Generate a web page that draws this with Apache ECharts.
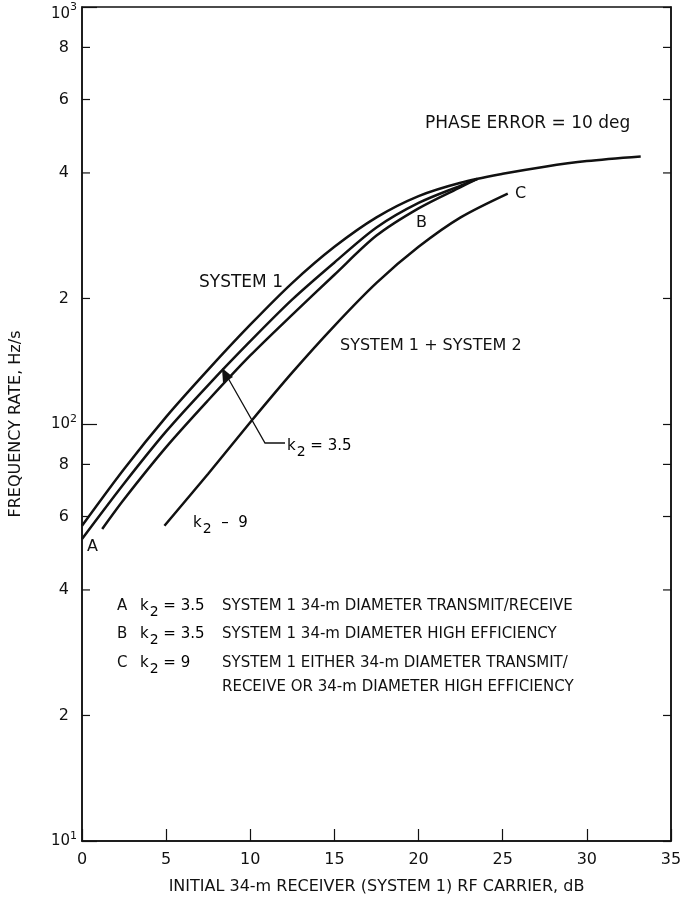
<!DOCTYPE html>
<html><head><meta charset="utf-8">
<script src="https://cdn.jsdelivr.net/npm/echarts@6/dist/echarts.min.js"></script>
<style>html,body{margin:0;padding:0;background:#fff}#c{width:685px;height:900px}</style>
</head><body><div id="c"></div>
<script>
// ---- data ----
const xTicks = [0, 5, 10, 15, 20, 25, 30, 35];
const yMinorTicks = [20, 40, 60, 80, 200, 400, 600, 800];
const yMinorLabels = ['2', '4', '6', '8', '2', '4', '6', '8'];
const s1TopX = [0, 2.5, 5, 7.5, 10, 12.5, 15, 17.5, 20, 22.5, 25, 27.5, 30, 33.2];
const s1TopY = [57, 78, 104, 135, 173, 218, 266, 313, 352, 379, 398, 414, 427, 438];
const s1MidX = [0, 2.5, 5, 7.5, 10, 12.5, 15, 17.5, 20, 22.5, 23.5];
const s1MidY = [53, 72, 96, 124, 158, 199, 244, 296, 339, 373, 387];
const s1LowX = [1.2, 2.5, 5, 7.5, 10, 12.5, 15, 17.5, 20, 22.5, 23.5];
const s1LowY = [56, 66, 88, 114, 146, 183, 228, 283, 329, 370, 387];
const s12X = [4.9, 7.5, 10, 12.5, 15, 17.5, 20, 22.5, 25.3];
const s12Y = [57, 76, 101, 133, 172, 218, 266, 313, 357];

const FONT = '"DejaVu Sans", sans-serif';
const INK = '#111';
const pair = (xs, ys) => xs.map((x, i) => [x, ys[i]]);

const chart = echarts.init(document.getElementById('c'));
const lineSeries = (name, xs, ys) => ({
  name, type: 'line', data: pair(xs, ys), smooth: 0.3, showSymbol: false,
  lineStyle: { color: INK, width: 2.5 }, silent: true
});
const supRich = {
  b: { fontSize: 15, fontFamily: FONT, color: INK },
  s: { fontSize: 11, fontFamily: FONT, color: INK, padding: [0, 0, 10, 0] },
  tb: { fontSize: 15, fontFamily: FONT, color: INK, padding: [14, 0, 0, 0] },
  ts: { fontSize: 11, fontFamily: FONT, color: INK, padding: [0, 0, 0, 0] }
};
chart.setOption({
  animation: false,
  grid: { left: 82, right: 14, top: 7, bottom: 57, show: true, borderColor: INK, borderWidth: 1.5 },
  xAxis: {
    type: 'value', min: 0, max: 35, interval: 5,
    axisLine: { show: true, lineStyle: { color: INK, width: 1.5 } },
    axisTick: { show: true, inside: true, length: 12, lineStyle: { color: INK, width: 1.2 } },
    splitLine: { show: false },
    axisLabel: { color: INK, fontSize: 16, fontFamily: FONT, margin: 11 },
    name: 'INITIAL 34-m RECEIVER (SYSTEM 1) RF CARRIER, dB', nameLocation: 'middle', nameGap: 38,
    nameTextStyle: { color: INK, fontSize: 16, fontFamily: FONT }
  },
  yAxis: [{
    type: 'log', min: 10, max: 1000, logBase: 10,
    axisLine: { show: true, lineStyle: { color: INK, width: 1.5 } },
    axisTick: { show: true, inside: true, length: 15, lineStyle: { color: INK, width: 1.2 } },
    splitLine: { show: false },
    axisLabel: {
      margin: 5,
      formatter: v => {
        const e = Math.round(Math.log10(v));
        return e === 3 ? '{tb|10}{ts|3}' : '{b|10}{s|' + e + '}';
      },
      rich: supRich
    },
    name: 'FREQUENCY RATE, Hz/s', nameLocation: 'middle', nameGap: 58, nameRotate: 90,
    nameTextStyle: { color: INK, fontSize: 16, fontFamily: FONT }
  }, {
    type: 'log', min: 10, max: 1000, logBase: 10, position: 'right',
    axisLine: { show: true, lineStyle: { color: INK, width: 1.5 } },
    axisTick: { show: true, inside: true, length: 8, lineStyle: { color: INK, width: 1.2 } },
    axisLabel: { show: false }, splitLine: { show: false }
  }],
  series: [
    lineSeries('s1top', s1TopX, s1TopY),
    lineSeries('s1mid', s1MidX, s1MidY),
    lineSeries('s1low', s1LowX, s1LowY),
    lineSeries('s12', s12X, s12Y)
  ]
});

// pixel helpers via the library's own scales
const px = (x, y) => chart.convertToPixel({ xAxisIndex: 0, yAxisIndex: 0 }, [x, y]);
const gridL = px(0, 10)[0], gridR = px(35, 10)[0];
const g = [];
yMinorTicks.forEach((v, i) => {
  const y = px(0, v)[1];
  g.push({ type: 'line', shape: { x1: gridL, y1: y, x2: gridL + 8, y2: y }, style: { stroke: INK, lineWidth: 1.2 } });
  g.push({ type: 'line', shape: { x1: gridR, y1: y, x2: gridR - 8, y2: y }, style: { stroke: INK, lineWidth: 1.2 } });
  g.push({ type: 'text', x: gridL - 13, y: y, style: { text: yMinorLabels[i], font: '16px ' + FONT, fill: INK, textAlign: 'right', textVerticalAlign: 'middle' } });
});
const txt = (t, x, y, size, align) => ({ type: 'text', x, y, style: { text: t, font: (size || 15) + 'px ' + FONT, fill: INK, textAlign: align || 'left', textVerticalAlign: 'middle' } });
const k2 = (x, y, rest) => ({
  type: 'text', x, y, style: {
    text: '{k|k}{sub|2}{r|' + rest + '}', textVerticalAlign: 'middle',
    rich: {
      k: { font: '15px ' + FONT, color: INK },
      sub: { font: '14px ' + FONT, color: INK, padding: [12, 0, 0, 1] },
      r: { font: '15px ' + FONT, color: INK }
    }
  }
});
g.push(txt('PHASE ERROR = 10 deg', 425, 124, 17));
g.push(txt('SYSTEM 1', 199, 283, 17));
g.push(txt('SYSTEM 1 + SYSTEM 2', 340, 346, 16));
g.push(txt('A', 87, 547, 16));
g.push(txt('B', 416, 223, 16));
g.push(txt('C', 515, 194, 16));
g.push(k2(287, 446, ' = 3.5'));
g.push(k2(193, 523, '  \u2013  9'));
// arrow leader
g.push({ type: 'polyline', shape: { points: [[285, 443], [265, 443], [228, 378]] }, style: { stroke: INK, lineWidth: 1.3, fill: null } });
g.push({ type: 'polygon', shape: { points: [[222, 368], [223, 383], [233, 377]] }, style: { fill: INK } });
// key
const keyRows = [
  ['A', ' = 3.5', 'SYSTEM 1 34-m DIAMETER TRANSMIT/RECEIVE', 606],
  ['B', ' = 3.5', 'SYSTEM 1 34-m DIAMETER HIGH EFFICIENCY', 634],
  ['C', ' = 9', 'SYSTEM 1 EITHER 34-m DIAMETER TRANSMIT/', 663]
];
keyRows.forEach(r => {
  g.push(txt(r[0], 117, r[3]));
  g.push(k2(140, r[3], r[1]));
  g.push(txt(r[2], 222, r[3]));
});
g.push(txt('RECEIVE OR 34-m DIAMETER HIGH EFFICIENCY', 222, 687));
chart.setOption({ graphic: g });
</script></body></html>
